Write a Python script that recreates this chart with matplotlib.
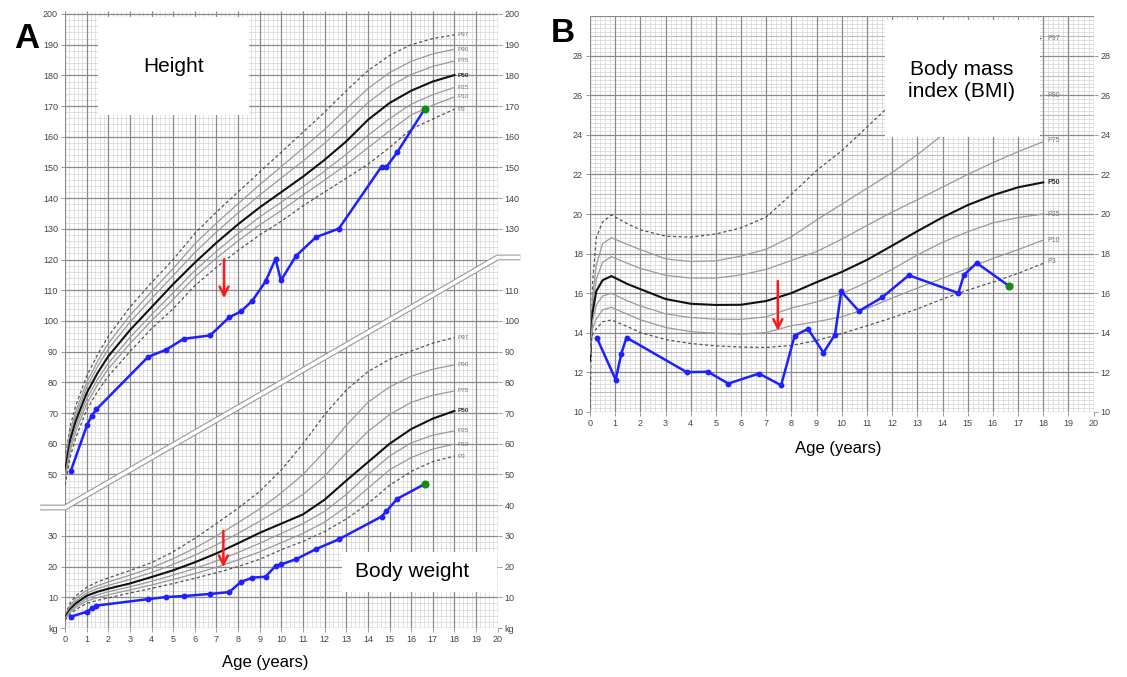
import numpy as np
import matplotlib
matplotlib.use('Agg')
import matplotlib.pyplot as plt
from matplotlib.patches import Rectangle

plt.rcParams['font.family'] = ['Liberation Sans', 'DejaVu Sans']

# ======= percentile reference curves (boys)
perc_names = ['P97', 'P90', 'P75', 'P50', 'P25', 'P10', 'P3']
perc_ages = [0, 0.25, 0.5, 1, 1.5, 2, 3, 4, 5, 6, 7, 8, 9, 10, 11, 12, 13, 14, 15, 16, 17, 18]

height_p97 = [55, 66, 72.5, 82, 89, 95, 104.5, 112.5, 120, 128.5, 135.5, 142, 148.5, 155, 161.5, 168, 175, 181.5, 186.5, 190, 192, 193.2]
height_p90 = [53.6, 64.4, 70.7, 80.0, 86.8, 92.7, 101.8, 109.6, 117.1, 125.1, 131.9, 138.2, 144.4, 150.3, 156.3, 162.4, 169.1, 175.7, 180.9, 184.6, 187.0, 188.5]
height_p75 = [52.4, 63.1, 69.3, 78.4, 85.1, 90.8, 99.6, 107.3, 114.8, 122.3, 129.0, 135.2, 141.0, 146.6, 152.1, 157.9, 164.3, 171.1, 176.4, 180.3, 182.9, 184.7]
height_p50 = [51, 61.5, 67.5, 76.5, 83, 88.5, 97, 104.5, 112, 119, 125.5, 131.5, 137, 142, 147, 152.5, 158.5, 165.5, 171, 175, 178, 180.1]
height_p25 = [49.4, 59.6, 65.6, 74.6, 80.9, 86.2, 94.6, 102.1, 109.2, 116.4, 122.7, 128.5, 133.9, 138.7, 143.7, 148.8, 154.3, 160.4, 165.9, 170.6, 173.7, 176.1]
height_p10 = [48.2, 58.0, 64.0, 73.0, 79.2, 84.4, 92.6, 100.1, 107.0, 114.3, 120.5, 126.1, 131.3, 136.0, 141.0, 145.9, 150.9, 156.4, 161.9, 167.1, 170.3, 173.0]
height_p3 = [46.5, 56, 62, 71, 77, 82, 90, 97.5, 104, 111.5, 117.5, 123, 128, 132.5, 137.5, 142, 146.5, 151, 156.5, 162.5, 165.8, 169]

weight_p97 = [4.3, 8.3, 10.5, 13.3, 15.0, 16.3, 18.7, 21.3, 24.8, 29.2, 34.0, 39.0, 44.5, 51.5, 60.0, 69.5, 77.5, 83.5, 87.5, 90.2, 92.8, 94.6]
weight_p90 = [4.0, 7.5, 9.6, 12.3, 13.8, 15.0, 17.2, 19.6, 22.6, 26.0, 30.0, 34.3, 38.8, 44.0, 50.0, 57.5, 66.0, 73.5, 78.5, 82.0, 84.3, 85.7]
weight_p75 = [3.7, 6.9, 8.8, 11.4, 12.8, 13.9, 15.8, 18.1, 20.7, 23.7, 27.1, 30.8, 34.8, 39.0, 43.5, 49.5, 57.0, 64.0, 69.5, 73.5, 75.8, 77.2]
weight_p50 = [3.4, 6.2, 8.0, 10.5, 11.8, 12.8, 14.5, 16.6, 18.8, 21.4, 24.3, 27.6, 31.0, 34.0, 37.0, 41.8, 48.0, 54.0, 60.0, 64.8, 68.2, 70.7]
weight_p25 = [3.1, 5.7, 7.3, 9.6, 10.8, 11.8, 13.4, 15.2, 17.2, 19.4, 21.8, 24.6, 27.6, 30.8, 34.0, 38.0, 43.5, 50.0, 56.0, 60.3, 62.8, 64.2]
weight_p10 = [2.9, 5.2, 6.7, 8.8, 9.9, 10.8, 12.4, 14.0, 15.8, 17.7, 19.8, 22.2, 24.8, 27.8, 30.8, 34.5, 39.5, 45.5, 51.5, 55.5, 58.3, 59.9]
weight_p3 = [2.6, 4.6, 6.0, 8.0, 9.0, 9.8, 11.4, 12.9, 14.5, 16.2, 18.0, 20.0, 22.4, 25.5, 28.2, 31.4, 35.5, 40.5, 46.5, 51.0, 54.2, 56.0]

bmi_ages = [0, 0.1, 0.25, 0.5, 0.85, 1.5, 2, 3, 4, 5, 6, 7, 8, 9, 10, 11, 12, 13, 14, 15, 16, 17, 18]
bmi_p97 = [10.2, 16.5, 18.8, 19.6, 19.95, 19.5, 19.2, 18.88, 18.83, 18.99, 19.3, 19.85, 21.0, 22.2, 23.2, 24.4, 25.6, 26.5, 27.2, 27.8, 28.3, 28.65, 28.9]
bmi_p90 = [12.0, 15.8, 17.4, 18.5, 18.8, 18.45, 18.2, 17.73, 17.6, 17.63, 17.87, 18.22, 18.85, 19.7, 20.5, 21.3, 22.1, 23.0, 24.0, 24.8, 25.4, 25.8, 26.0]
bmi_p75 = [12.3, 15.3, 16.7, 17.55, 17.84, 17.5, 17.25, 16.9, 16.76, 16.76, 16.92, 17.2, 17.65, 18.1, 18.73, 19.42, 20.1, 20.72, 21.36, 22.0, 22.6, 23.15, 23.66]
bmi_p50 = [12.6, 15.0, 16.1, 16.65, 16.86, 16.45, 16.2, 15.7, 15.46, 15.4, 15.41, 15.6, 16.0, 16.55, 17.07, 17.68, 18.4, 19.13, 19.83, 20.45, 20.95, 21.35, 21.6]
bmi_p25 = [12.9, 14.6, 15.4, 15.85, 15.99, 15.6, 15.35, 14.95, 14.76, 14.68, 14.67, 14.8, 15.25, 15.55, 15.97, 16.55, 17.2, 17.93, 18.57, 19.1, 19.55, 19.82, 20.0]
bmi_p10 = [13.1, 14.2, 14.7, 15.15, 15.28, 14.92, 14.65, 14.26, 14.05, 13.97, 13.93, 14.0, 14.35, 14.55, 14.8, 15.22, 15.75, 16.25, 16.75, 17.25, 17.75, 18.2, 18.68]
bmi_p3 = [13.3, 13.9, 14.2, 14.55, 14.64, 14.3, 14.0, 13.65, 13.45, 13.33, 13.27, 13.25, 13.35, 13.6, 13.95, 14.35, 14.75, 15.2, 15.7, 16.15, 16.55, 17.0, 17.5]

# ======= patient measurements
pat_age = [0.27, 1.02, 1.24, 1.45, 3.84, 4.69, 5.49, 6.71, 7.59, 8.13, 8.66, 9.27, 9.73, 9.98,
           10.68, 11.6, 12.66, 14.63, 14.85, 15.36, 16.63]
pat_height = [51.2, 66.1, 69.2, 71.2, 88.3, 90.7, 94.2, 95.3, 101.2, 103.1, 106.6, 112.9, 120.2, 113.2,
              121.2, 127.3, 130.1, 150.3, 150.1, 155.0, 169.1]
pat_weight = [3.7, 5.3, 6.4, 7.3, 9.4, 10.1, 10.4, 11.1, 11.7, 15.0, 16.4, 16.7, 20.2, 20.7,
              22.4, 25.7, 28.9, 36.3, 38.0, 42.1, 46.9]
pat_bmi = [13.74, 11.62, 12.92, 13.75, 12.0, 12.02, 11.42, 11.93, 11.34, 13.85, 14.19, 12.98, 13.9, 16.08,
           15.09, 15.78, 16.9, 16.0, 16.92, 17.52, 16.37]

# red arrows: (age, from, to)
arrow_height = (7.35, 121, 106.5)
arrow_weight = (7.32, 32.5, 18.9)
arrow_bmi = (7.46, 16.75, 13.95)

height_curves = [height_p97, height_p90, height_p75, height_p50, height_p25, height_p10, height_p3]
weight_curves = [weight_p97, weight_p90, weight_p75, weight_p50, weight_p25, weight_p10, weight_p3]
bmi_curves = [bmi_p97, bmi_p90, bmi_p75, bmi_p50, bmi_p25, bmi_p10, bmi_p3]

MAJOR = '#8a8a8a'
MINOR = '#d4d4d4'
BLUE = '#1f1fff'


def draw_grid(ax, ytop, ystep_minor, ystep_major, ybot=0):
    ax.vlines(np.arange(0, 20.01, 0.2), ybot, ytop, color=MINOR, lw=0.5, zorder=0)
    ax.hlines(np.arange(ybot, ytop + 0.01, ystep_minor), 0, 20, color=MINOR, lw=0.5, zorder=0)
    ax.vlines(np.arange(0, 21), ybot, ytop, color=MAJOR, lw=0.9, zorder=0.5)
    ax.hlines(np.arange(ybot, ytop + 0.01, ystep_major), 0, 20, color=MAJOR, lw=0.9, zorder=0.5)
    for s in ax.spines.values():
        s.set_visible(False)


def curve_style(name):
    if name == 'P50':
        return dict(color='#111111', lw=1.5, ls='-')
    if name in ('P97', 'P3'):
        return dict(color='#555555', lw=0.9, ls=(0, (2.5, 2)))
    return dict(color='#9a9a9a', lw=0.9, ls='-')


def draw_percentiles(ax, ages, curves, label_y, fs=4.6):
    for name, vals, ly in zip(perc_names, curves, label_y):
        ax.plot(ages, vals, zorder=2, **curve_style(name))
        ax.text(18.15, ly, name, fontsize=fs, va='center', ha='left',
                color='#333333' if name == 'P50' else '#777777',
                fontweight='bold' if name == 'P50' else 'normal', zorder=6)


def draw_patient(ax, ages, vals):
    ax.plot(ages, vals, color=BLUE, lw=1.8, marker='o', ms=3.2, zorder=5)
    ax.plot(ages[-1], vals[-1], 'o', color='#138a13', ms=4.8, zorder=6)


def red_arrow(ax, arrow):
    a, y0, y1 = arrow
    ax.annotate('', xy=(a, y1), xytext=(a, y0),
                arrowprops=dict(arrowstyle='->', color='#ff1a1a', lw=1.8, mutation_scale=16),
                zorder=7)


fig = plt.figure(figsize=(11.27, 6.77), dpi=100)

# ======= Panel A: height + weight on one 0-200 scale
axA = fig.add_axes([65 / 1127, 1 - 628 / 677, 432.7 / 1127, 617.1 / 677])
axA.set_xlim(0, 20)
axA.set_ylim(0, 201)
draw_grid(axA, 201, 2, 10)

# separator band between height and weight scales
band_x = [-1.15, 0, 20, 21.05]
band_y = [39.25, 39.25, 120.7, 120.7]
axA.plot(band_x, band_y, color='#9a9a9a', lw=4.2, solid_capstyle='butt', clip_on=False, zorder=1)
axA.plot(band_x, band_y, color='white', lw=2.6, solid_capstyle='butt', clip_on=False, zorder=1.1)

draw_percentiles(axA, perc_ages, height_curves, [193.2, 188.5, 184.7, 180.1, 176.1, 173.0, 169.0])
draw_percentiles(axA, perc_ages, weight_curves, [94.7, 85.7, 77.2, 70.7, 64.2, 59.9, 55.8])

axA.add_patch(Rectangle((1.53, 167.1), 6.97, 31.9, facecolor='white', edgecolor='none', zorder=3))
axA.text(5.04, 183, 'Height', fontsize=15, ha='center', va='center', zorder=4)
axA.add_patch(Rectangle((12.79, 11.8), 7.17, 13.1, facecolor='white', edgecolor='none', zorder=3))
axA.text(16.03, 18.3, 'Body weight', fontsize=15, ha='center', va='center', zorder=4)

draw_patient(axA, pat_age, pat_height)
draw_patient(axA, pat_age, pat_weight)
red_arrow(axA, arrow_height)
red_arrow(axA, arrow_weight)

left_ticks = [0, 10, 20, 30] + list(range(50, 201, 10))
left_labels = ['kg'] + [str(t) for t in left_ticks[1:]]
axA.set_yticks(left_ticks)
axA.set_yticklabels(left_labels)
axA.set_xticks(range(0, 21))
axA.tick_params(labelsize=6.5, labelcolor='#444444', color='#888888', length=3, width=0.6, pad=2)

axA_r = axA.twinx()
axA_r.set_ylim(0, 201)
right_ticks = [t for t in range(0, 201, 10) if t != 120]
axA_r.set_yticks(right_ticks)
axA_r.set_yticklabels(['kg'] + [str(t) for t in right_ticks[1:]])
axA_r.tick_params(labelsize=6.5, labelcolor='#444444', color='#888888', length=3, width=0.6, pad=2)
for s in axA_r.spines.values():
    s.set_visible(False)

fig.text(265 / 1127, 1 - 662 / 677, 'Age (years)', fontsize=12, ha='center', va='center')
fig.text(27 / 1127, 1 - 38 / 677, 'A', fontsize=25, fontweight='bold', ha='center', va='center')

# ======= Panel B: BMI
axB = fig.add_axes([590 / 1127, 1 - 411.7 / 677, 503.6 / 1127, 395.4 / 677])
axB.set_xlim(0, 20)
axB.set_ylim(10, 30)
draw_grid(axB, 30, 0.2, 2, ybot=10)
axB.hlines(np.arange(11, 30, 2), 0, 20, color='#b5b5b5', lw=0.6, zorder=0.4)

draw_percentiles(axB, bmi_ages, bmi_curves, [28.89, 26.0, 23.7, 21.6, 19.95, 18.68, 17.59], fs=5)

axB.add_patch(Rectangle((11.72, 23.9), 6.15, 5.9, facecolor='white', edgecolor='none', zorder=3))
axB.text(14.76, 26.75, 'Body mass\nindex (BMI)', fontsize=15, ha='center', va='center',
         linespacing=1.15, zorder=4)

draw_patient(axB, pat_age, pat_bmi)
red_arrow(axB, arrow_bmi)

axB.set_yticks(range(10, 29, 2))
axB.set_xticks(range(0, 21))
axB.tick_params(labelsize=6.5, labelcolor='#444444', color='#888888', length=3, width=0.6, pad=2)
axB_r = axB.twinx()
axB_r.set_ylim(10, 30)
axB_r.set_yticks(range(10, 29, 2))
axB_r.tick_params(labelsize=6.5, labelcolor='#444444', color='#888888', length=3, width=0.6, pad=2)
for s in axB_r.spines.values():
    s.set_visible(False)

fig.text(838 / 1127, 1 - 449 / 677, 'Age (years)', fontsize=12, ha='center', va='center')
fig.text(563 / 1127, 1 - 34 / 677, 'B', fontsize=24, fontweight='bold', ha='center', va='center')

fig.savefig('out.png', dpi=100, facecolor='white')
